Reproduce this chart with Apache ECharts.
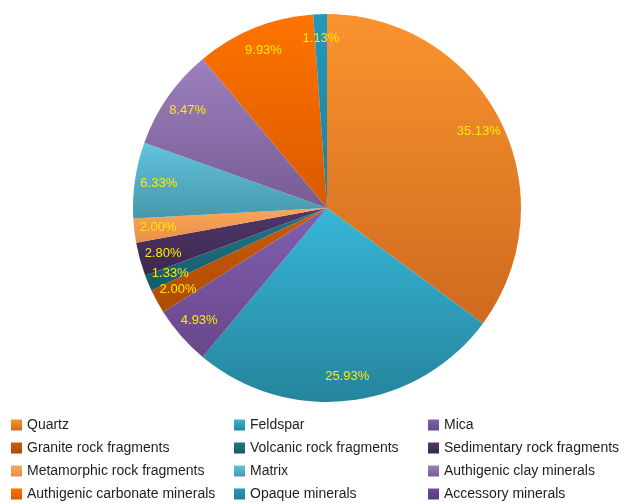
<!DOCTYPE html>
<html>
<head>
<meta charset="utf-8">
<script src="https://cdn.jsdelivr.net/npm/echarts@6/dist/echarts.min.js"></script>
<style>
  html, body { margin: 0; padding: 0; background: #fff; }
  #chart { width: 627px; height: 503px; }
</style>
</head>
<body>
<div id="chart"></div>
<script>
// Mineral composition (percent of total)
const minerals = [
  'Quartz', 'Feldspar', 'Mica',
  'Granite rock fragments', 'Volcanic rock fragments', 'Sedimentary rock fragments',
  'Metamorphic rock fragments', 'Matrix', 'Authigenic clay minerals',
  'Authigenic carbonate minerals', 'Opaque minerals', 'Accessory minerals'
];
const percents = [35.13, 25.93, 4.93, 2.00, 1.33, 2.80, 2.00, 6.33, 8.47, 9.93, 1.13, 0];

// Legend columns (names listed top to bottom)
const legendCol1 = ['Quartz', 'Granite rock fragments', 'Metamorphic rock fragments', 'Authigenic carbonate minerals'];
const legendCol2 = ['Feldspar', 'Volcanic rock fragments', 'Matrix', 'Opaque minerals'];
const legendCol3 = ['Mica', 'Sedimentary rock fragments', 'Authigenic clay minerals', 'Accessory minerals'];

// Slice fills: light at the top, darker at the bottom
const shades = [
  ['#FA932E', '#CF6A1F'],
  ['#38B6D8', '#25849C'],
  ['#8060B0', '#684789'],
  ['#CC5C0C', '#AE4A02'],
  ['#217587', '#165C6B'],
  ['#50376A', '#3B274E'],
  ['#FBA55C', '#E88F45'],
  ['#60C4DE', '#4897AA'],
  ['#9B80BE', '#775C93'],
  ['#FF7400', '#DA5900'],
  ['#2398BA', '#1C809E'],
  ['#6E4897', '#5A3A7C']
];

function fill(i) {
  return new echarts.graphic.LinearGradient(0, 0, 0, 1, [
    { offset: 0, color: shades[i][0] },
    { offset: 1, color: shades[i][1] }
  ]);
}

const sliceData = minerals.map((name, i) => ({
  name: name,
  value: percents[i],
  itemStyle: { color: fill(i) }
}));

const labelData = minerals.map((name, i) => ({ name: name, value: percents[i] }));

const chart = echarts.init(document.getElementById('chart'), null, { renderer: 'canvas' });

const legendBase = {
  orient: 'vertical',
  top: 418,
  itemWidth: 11,
  itemHeight: 11,
  itemGap: 9,
  icon: 'rect',
  selectedMode: false,
  padding: 0,
  textStyle: { fontFamily: 'Liberation Sans, Arial, sans-serif', fontSize: 14, color: '#1e1e1e', lineHeight: 14 }
};

chart.setOption({
  animation: false,
  backgroundColor: '#ffffff',
  legend: [
    Object.assign({}, legendBase, { left: 11, data: legendCol1 }),
    Object.assign({}, legendBase, { left: 234, data: legendCol2 }),
    Object.assign({}, legendBase, { left: 428, data: legendCol3 })
  ],
  series: [
    {
      type: 'pie',
      center: [327, 208],
      radius: [0, 194],
      startAngle: 90,
      clockwise: true,
      silent: true,
      label: { show: false },
      labelLine: { show: false },
      itemStyle: { borderWidth: 0 },
      data: sliceData
    },
    {
      // transparent ring that carries the percentage labels
      type: 'pie',
      center: [327, 208],
      radius: [140, 194],
      startAngle: 90,
      clockwise: true,
      silent: true,
      itemStyle: { color: 'rgba(0,0,0,0)' },
      label: {
        show: true,
        position: 'inside',
        color: '#FFEA00',
        fontFamily: 'Liberation Sans, Arial, sans-serif',
        fontSize: 13,
        formatter: p => (p.value > 0 ? p.value.toFixed(2) + '%' : '')
      },
      labelLine: { show: false },
      data: labelData
    }
  ]
});
</script>
</body>
</html>
